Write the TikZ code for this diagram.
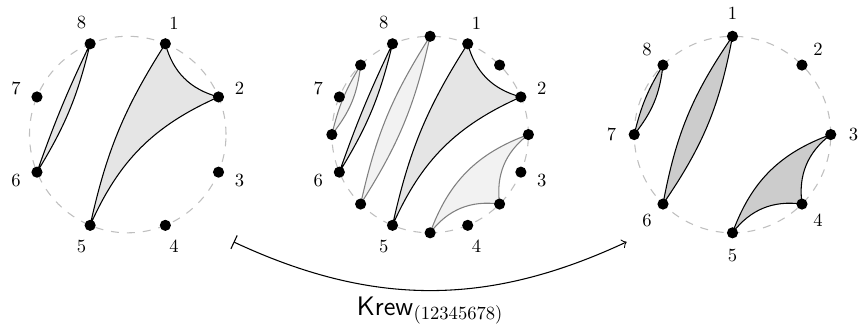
\documentclass[tikz,border=0pt]{standalone}
\usepackage{amsmath,amssymb}
\tikzset{
  every picture/.style={line join=round},
  rim/.style={gray!50, dashed},
  vertex/.style={fill=black},
  block/.style={draw=black, fill=gray!20},
  ghost/.style={draw=gray, fill=gray!10},
  kblock/.style={draw=black, fill=gray!40},
  numlabel/.style={scale=0.7},
}
\begin{document}
\begin{tikzpicture}
\useasboundingbox (-1.69,-2.52) rectangle (9.7,1.78);
\draw[rim] (0,0) circle (1.3);
\foreach \k in {1,...,8} {
  \coordinate (p\k) at (112.5-45*\k:1.3);
  \node[numlabel] (pl\k) at (112.5-45*\k:1.6) {\k};
}
\filldraw[block] (p1) to[bend right=30] (p2) to[bend right=21] (p5) to[bend left=10] (p1);
\filldraw[block] (p6) to[bend right=9] (p8) to[bend right=3] (p6);
\foreach \k in {1,...,8} \fill[vertex] (p\k) circle (2.1pt);

\begin{scope}[xshift=4cm]
\draw[rim] (0,0) circle (1.3);
\foreach \k in {1,...,8} {
  \coordinate (q\k) at (112.5-45*\k:1.3);
  \coordinate (h\k) at (135-45*\k:1.3);
  \node[numlabel] (ql\k) at (112.5-45*\k:1.6) {\k};
}
\end{scope}
\filldraw[ghost] (h7) to[bend right=16] (h8) to[bend right=9] (h7);
\filldraw[ghost] (h1) to[bend right=10] (h6) to[bend right=10] (h1);
\filldraw[ghost] (h3) to[bend right=30] (h4) to[bend right=30] (h5) to[bend left=25] (h3);
\filldraw[block] (q1) to[bend right=30] (q2) to[bend right=21] (q5) to[bend left=10] (q1);
\filldraw[block] (q6) to[bend right=9] (q8) to[bend right=3] (q6);
\foreach \k in {1,...,8} \fill[vertex] (q\k) circle (2.1pt) (h\k) circle (2.1pt);

\begin{scope}[xshift=8cm]
\draw[rim] (0,0) circle (1.3);
\foreach \k in {1,...,8} {
  \coordinate (r\k) at (135-45*\k:1.3);
  \node[numlabel] (rl\k) at (135-45*\k:1.6) {\k};
}
\end{scope}
\filldraw[kblock] (r7) to[bend right=16] (r8) to[bend right=9] (r7);
\filldraw[kblock] (r1) to[bend right=12] (r6) to[bend right=12] (r1);
\filldraw[kblock] (r3) to[bend right=30] (r4) to[bend right=30] (r5) to[bend left=25] (r3);
\foreach \k in {1,...,8} \fill[vertex] (r\k) circle (2.1pt);

\coordinate (src) at (1.4,-1.42);
\coordinate (dst) at (6.6,-1.42);
\draw[|->] (src) to[bend right=25] node[below, scale=0.7, inner sep=3pt, font=\Large] (krew) {$\mathsf{Krew}_{(12345678)}$} (dst);
\end{tikzpicture}
\end{document}
